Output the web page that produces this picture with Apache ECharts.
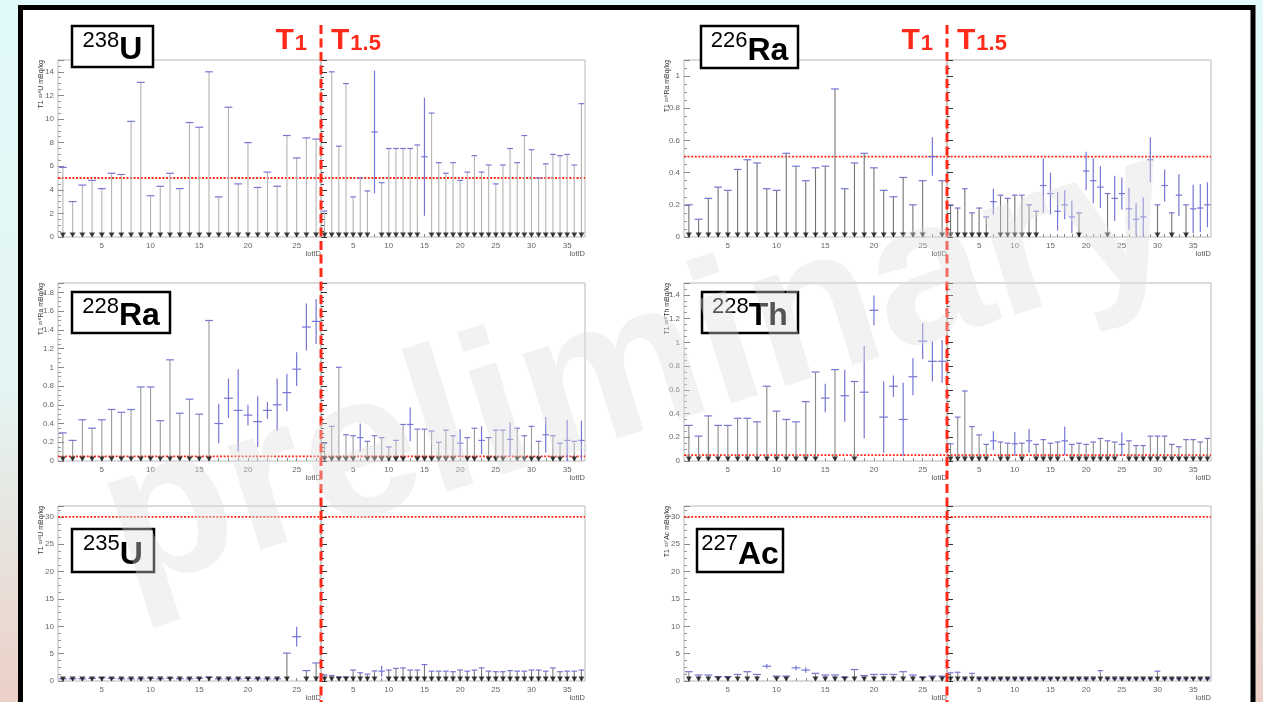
<!DOCTYPE html>
<html>
<head>
<meta charset="utf-8">
<title>Radioactivity per lot: T1 and T1.5</title>
<script src="https://cdn.jsdelivr.net/npm/echarts@6/dist/echarts.min.js"></script>
<style>
  html, body { margin: 0; padding: 0; background: #ffffff; }
  #chart { width: 1263px; height: 702px; }
</style>
</head>
<body>
<div id="chart"></div>
<script>
// ---------------------------------------------------------------------------
// Data: lot numbers, measured activities (mBq/kg) and their errors.
// An error of null means the value is an upper limit (no detection).
// ---------------------------------------------------------------------------
const _ = null;

const lotsT1  = [1,2,3,4,5,6,7,8,9,10,11,12,13,14,15,16,17,18,19,20,21,22,23,24,25,26,27];
const lotsT15 = [1,2,3,4,5,6,7,8,9,10,11,12,13,14,15,16,17,18,19,20,21,22,23,24,25,26,27,28,29,30,31,32,33,34,35,36,37];
const xTicksT1  = [5,10,15,20,25];
const xTicksT15 = [5,10,15,20,25,30,35];

// 238U
const u238T1     = [5.9,3.0,4.4,4.8,4.1,5.4,5.3,9.8,13.1,3.5,4.3,5.4,4.1,9.7,9.3,14.0,3.4,11.0,4.5,8.0,4.2,5.5,4.3,8.6,6.7,8.4,8.3];
const u238T1Err  = [_,_,_,_,_,_,_,_,_,_, _,_,_,_,_,_,_,_,_,_, _,_,_,_,_,_,_];
const u238T15    = [2.2,14.0,7.7,13.0,3.4,5.0,3.9,8.9,4.6,7.5,7.5,7.5,7.5,7.8,6.8,10.5,6.3,5.4,6.3,4.8,5.5,6.9,5.5,6.1,4.5,6.1,7.5,6.3,8.6,7.4,5.0,6.2,7.0,6.9,7.0,6.1,11.3];
const u238T15Err = [_,_,_,_,_,_,_,5.2,_,_, _,_,_,_,5.0,_,_,_,_,_, _,_,_,_,_,_,_,_,_,_, _,_,_,_,_,_,_];

// 226Ra
const ra226T1     = [0.20,0.11,0.24,0.31,0.29,0.42,0.48,0.46,0.30,0.29,0.52,0.44,0.35,0.43,0.44,0.92,0.30,0.46,0.52,0.43,0.29,0.25,0.37,0.20,0.35,0.50,0.35];
const ra226T1Err  = [_,_,_,_,_,_,_,_,_,_, _,_,_,_,_,_,_,_,_,_, _,_,_,_,_,0.12,_];
const ra226T15    = [0.20,0.18,0.30,0.15,0.18,0.125,0.22,0.26,0.24,0.26,0.26,0.20,0.16,0.32,0.27,0.16,0.20,0.125,0.15,0.41,0.35,0.31,0.27,0.24,0.27,0.175,0.11,0.125,0.48,0.20,0.32,0.15,0.26,0.20,0.175,0.18,0.20];
const ra226T15Err = [_,_,_,_,_,_,0.08,_,_,_, _,_,_,0.17,0.13,0.12,0.09,0.10,_,0.12, 0.14,0.13,_,0.14,0.10,0.13,0.10,0.12,0.14,_, 0.10,_,0.13,_,0.15,0.15,0.14];

// 228Ra
const ra228T1     = [0.30,0.22,0.44,0.35,0.44,0.55,0.52,0.55,0.79,0.79,0.43,1.08,0.51,0.66,0.50,1.50,0.40,0.67,0.54,0.49,0.42,0.54,0.60,0.73,0.98,1.43,1.49];
const ra228T1Err  = [_,_,_,_,_,_,_,_,_,_, _,_,_,_,_,_,0.21,0.21,0.44,0.11, 0.27,0.09,0.28,0.20,0.18,0.25,0.24];
const ra228T15    = [0.19,0.37,1.00,0.28,0.27,0.25,0.21,0.27,0.25,0.15,0.22,0.39,0.39,0.34,0.34,0.32,0.20,0.33,0.27,0.19,0.25,0.35,0.22,0.25,0.33,0.33,0.23,0.35,0.27,0.37,0.21,0.28,0.27,0.19,0.22,0.21,0.22];
const ra228T15Err = [_,_,_,_,_,0.15,_,_,_,_, _,_,0.18,_,_,_,_,_,_,0.15, _,_,0.15,_,_,_,0.18,_,_,_, _,0.19,_,_,0.22,_,0.21];

// 228Th
const th228T1     = [0.30,0.21,0.38,0.30,0.30,0.36,0.36,0.33,0.63,0.42,0.35,0.33,0.50,0.75,0.53,0.77,0.55,0.67,0.58,1.27,0.37,0.63,0.35,0.71,1.01,0.84,0.84];
const th228T1Err  = [_,_,_,_,_,_,_,_,_,_, _,_,_,_,0.12,_,0.22,_,0.39,0.125, 0.30,0.09,0.31,0.155,0.15,0.17,0.18];
const th228T15    = [0.145,0.37,0.59,0.29,0.22,0.14,0.17,0.16,0.15,0.145,0.15,0.17,0.14,0.18,0.15,0.16,0.17,0.14,0.15,0.14,0.16,0.19,0.17,0.16,0.14,0.17,0.13,0.13,0.21,0.21,0.21,0.14,0.12,0.18,0.18,0.16,0.19];
const th228T15Err = [_,_,_,_,_,_,0.08,_,_,0.10, _,0.10,_,_,_,_,0.12,_,_,_, _,_,_,_,0.10,_,_,_,_,_, _,_,_,_,_,_,_];

// 235U
const u235T1     = [0.4,0.4,0.4,0.5,0.6,0.5,0.4,0.4,0.4,0.5,0.4,0.5,0.4,0.4,0.5,0.7,0.4,0.4,0.4,0.5,0.4,0.4,0.4,5.1,8.1,1.9,3.3];
const u235T1Err  = [_,_,_,_,_,_,_,_,_,_, _,_,_,_,_,_,_,_,_,_, _,_,_,_,1.8,_,_];
const u235T15    = [1.1,1.0,0.7,0.7,2.0,1.5,1.25,1.85,1.8,2.0,2.3,2.4,2.0,2.0,3.0,1.8,1.8,1.8,1.7,2.0,1.8,2.0,2.4,1.8,1.7,1.7,1.9,1.8,1.8,2.0,2.0,1.8,2.4,1.7,1.8,1.8,2.0];
const u235T15Err = [_,_,_,_,_,_,_,_,1.0,_, _,_,_,_,_,_,_,_,_,_, _,_,_,_,_,_,_,_,_,_, _,_,_,_,_,_,_];

// 227Ac
const ac227T1     = [1.7,1.1,1.1,0.8,0.8,1.2,1.7,1.2,2.7,0.9,0.9,2.4,2.0,1.4,1.1,1.1,0.7,2.1,1.0,1.2,1.2,1.2,1.7,1.1,0.7,0.9,0.9];
const ac227T1Err  = [_,_,_,_,_,_,_,_,0.4,_, _,0.45,0.5,_,_,_,_,_,_,_, _,_,_,_,_,_,_];
const ac227T15    = [1.5,1.6,0.4,1.4,0.4,0.4,0.4,0.4,0.4,0.4,0.4,0.4,0.4,0.4,0.4,0.5,0.4,0.4,0.4,0.4,0.4,1.9,0.4,0.4,0.4,0.4,0.4,0.4,0.4,1.8,0.4,0.4,0.4,0.4,0.5,0.4,0.4];
const ac227T15Err = [_,_,_,_,_,_,_,_,_,_, _,_,_,_,_,_,_,_,_,_, _,_,_,_,_,_,_,_,_,_, _,_,_,_,_,_,_];

// Panel labels, y ranges and requirement levels (mBq/kg)
const massNumbers = ['238','226','228','228','235','227'];
const elements    = ['U','Ra','Ra','Th','U','Ac'];
const yMax        = [15, 1.1, 1.9, 1.5, 32, 32];
const yStep       = [2, 0.2, 0.2, 0.2, 5, 5];
const limits      = [5, 0.5, 0.05, 0.05, 30, 30];

const seriesT1     = [u238T1, ra226T1, ra228T1, th228T1, u235T1, ac227T1];
const seriesT1Err  = [u238T1Err, ra226T1Err, ra228T1Err, th228T1Err, u235T1Err, ac227T1Err];
const seriesT15    = [u238T15, ra226T15, ra228T15, th228T15, u235T15, ac227T15];
const seriesT15Err = [u238T15Err, ra226T15Err, ra228T15Err, th228T15Err, u235T15Err, ac227T15Err];

// ---------------------------------------------------------------------------
// Layout and style
// ---------------------------------------------------------------------------
const FONT = '"Liberation Sans", Arial, Helvetica, sans-serif';
const colLeft = [58, 684];
const rowTop = [60, 283, 506];
const rowHeight = [177, 178, 177];
const widthT1 = 263, widthT15 = 264;
const stemColors = ['#b4b4b4', '#747474', '#9a9a9a', '#8a8a8a', '#7a7a7a', '#8a8a8a'];
const BLUE = '#7676d6';
const RED = '#ff2a1a';
const CAP_HALF = 0.4;
const BAR_HALF = 0.45;
const titleBoxes = [[72,26,81,41],[701,26,97,42],[72,292,98,41],[702,292,96,41],[72,529,82,43],[697,529,86,43]];

function limitItem(stem) {
  return function (params, api) {
    const x = api.value(0), v = api.value(1);
    const p0 = api.coord([x, 0]), p1 = api.coord([x, v]);
    const cl = api.coord([x - CAP_HALF, v]), cr = api.coord([x + CAP_HALF, v]);
    return { type: 'group', children: [
      { type: 'line', shape: { x1: p0[0], y1: p0[1], x2: p1[0], y2: p1[1] }, style: { stroke: stem, lineWidth: 1.1 } },
      { type: 'line', shape: { x1: cl[0], y1: cl[1], x2: cr[0], y2: cr[1] }, style: { stroke: BLUE, lineWidth: 1.2 } }
    ]};
  };
}

function crossItem(params, api) {
  const x = api.value(0), v = api.value(1), e = api.value(2);
  const l = api.coord([x - BAR_HALF, v]), r = api.coord([x + BAR_HALF, v]);
  const lo = api.coord([x, Math.max(0, v - e)]), hi = api.coord([x, v + e]);
  return { type: 'group', children: [
    { type: 'line', shape: { x1: l[0], y1: l[1], x2: r[0], y2: r[1] }, style: { stroke: BLUE, lineWidth: 1.2 } },
    { type: 'line', shape: { x1: lo[0], y1: lo[1], x2: hi[0], y2: hi[1] }, style: { stroke: BLUE, lineWidth: 1.2 } }
  ]};
}

const grids = [], xAxes = [], yAxes = [], series = [];

for (let p = 0; p < 6; p++) {
  const row = Math.floor(p / 2), col = p % 2;
  const parts = [
    { lots: lotsT1,  vals: seriesT1[p],  errs: seriesT1Err[p],  ticks: xTicksT1,  left: colLeft[col],           width: widthT1,  first: true },
    { lots: lotsT15, vals: seriesT15[p], errs: seriesT15Err[p], ticks: xTicksT15, left: colLeft[col] + widthT1, width: widthT15, first: false }
  ];
  parts.forEach(part => {
    const g = grids.length;
    const xEnd = part.lots.length + 0.5;
    grids.push({
      left: part.left, top: rowTop[row], width: part.width, height: rowHeight[row],
      show: true, borderColor: '#b8b8b8', borderWidth: 1, backgroundColor: 'transparent', containLabel: false
    });
    xAxes.push({
      gridIndex: g, type: 'value', min: 0.5, max: xEnd,
      axisLine: { show: false }, splitLine: { show: false },
      axisTick: { show: true, inside: true, length: 3, customValues: part.lots, lineStyle: { color: '#8a8a8a' } },
      axisLabel: { customValues: part.ticks, fontSize: 8, color: '#666', margin: 5, fontFamily: FONT },
      name: 'lotID', nameLocation: 'end', nameGap: 0,
      nameTextStyle: { fontSize: 7.5, color: '#555', fontFamily: FONT, align: 'right', verticalAlign: 'top', padding: [13, 0, 0, 0] }
    });
    yAxes.push({
      gridIndex: g, type: 'value', min: 0, max: yMax[p], interval: yStep[p],
      axisLine: { show: false }, splitLine: { show: false },
      axisTick: { show: true, inside: true, length: 6, lineStyle: { color: part.first ? '#888' : '#333' } },
      minorTick: { show: true, splitNumber: 4, length: 3, lineStyle: { color: part.first ? '#999' : '#444' } },
      axisLabel: { show: part.first, fontSize: 8, color: '#666', margin: 4, fontFamily: FONT, showMaxLabel: false }
    });

    const upper = [], measured = [], markers = [];
    part.lots.forEach((lot, i) => {
      if (part.errs[i] === null) {
        upper.push([lot, part.vals[i]]);
        markers.push([lot, 0]);
      } else {
        measured.push([lot, part.vals[i], part.errs[i]]);
      }
    });

    series.push({ type: 'line', xAxisIndex: g, yAxisIndex: g, silent: true, z: 2,
      data: [[0.5, limits[p]], [xEnd, limits[p]]], symbol: 'none',
      lineStyle: { color: RED, width: 1.8, type: [2, 1.6] } });
    series.push({ type: 'custom', xAxisIndex: g, yAxisIndex: g, silent: true, z: 3,
      data: upper, renderItem: limitItem(stemColors[p]) });
    series.push({ type: 'custom', xAxisIndex: g, yAxisIndex: g, silent: true, z: 4,
      data: measured, renderItem: crossItem });
    series.push({ type: 'scatter', xAxisIndex: g, yAxisIndex: g, silent: true, z: 5,
      data: markers, symbol: 'triangle', symbolRotate: 180, symbolSize: [6, 5], symbolOffset: [0, -2],
      itemStyle: { color: '#111' } });
  });
}

const chart = echarts.init(document.getElementById('chart'), null, { renderer: 'canvas' });
chart.setOption({
  animation: false,
  textStyle: { fontFamily: FONT },
  grid: grids, xAxis: xAxes, yAxis: yAxes, series: series
});

// ---------------------------------------------------------------------------
// Decorations: slide background, frame, titles, T1/T1.5 separators, watermark
// ---------------------------------------------------------------------------
const measureCtx = document.createElement('canvas').getContext('2d');
function textWidth(str, size, weight) {
  measureCtx.font = weight + ' ' + size + 'px ' + FONT;
  return measureCtx.measureText(str).width;
}
// place text so that its alphabetic baseline sits at y
function baselineText(str, x, y, size, weight, color, align, z) {
  return { type: 'text', x: x, y: y - 0.33 * size, z: z, silent: true,
    style: { text: str, fontSize: size, fontWeight: weight, fontFamily: FONT, fill: color,
             align: align || 'left', verticalAlign: 'middle' } };
}

const supDigits = { '0':'⁰','1':'¹','2':'²','3':'³','4':'⁴','5':'⁵','6':'⁶','7':'⁷','8':'⁸','9':'⁹' };
function toSup(s) { return s.split('').map(c => supDigits[c] || c).join(''); }

const graphics = [];
graphics.push({ type: 'rect', z: -20, silent: true, shape: { x: 0, y: 0, width: 1263, height: 702 },
  style: { fill: new echarts.graphic.LinearGradient(0, 0, 0, 1, [
    { offset: 0, color: '#e2fafa' }, { offset: 0.55, color: '#e4f5f3' }, { offset: 1, color: '#ecd0c7' }]) } });
graphics.push({ type: 'rect', z: -19, silent: true, shape: { x: 20.5, y: 7.5, width: 1232.5, height: 760 },
  style: { fill: '#ffffff', stroke: '#000000', lineWidth: 5 } });

// y-axis titles and element boxes
for (let p = 0; p < 6; p++) {
  const row = Math.floor(p / 2), col = p % 2;
  graphics.push({ type: 'text', x: colLeft[col] - 17, y: rowTop[row], rotation: Math.PI / 2, z: 40, silent: true,
    style: { text: 'T1 ' + toSup(massNumbers[p]) + elements[p] + ' mBq/kg', fontSize: 7, fontFamily: FONT,
             fill: '#333', align: 'right', verticalAlign: 'middle' } });

  const [bx, by, bw, bh] = titleBoxes[p];
  const numSize = 22, elSize = 32;
  const wNum = textWidth(massNumbers[p], numSize, 'normal');
  const wEl = textWidth(elements[p], elSize, 'bold');
  const startX = bx + bw / 2 - (wNum + wEl) / 2;
  graphics.push({ type: 'rect', z: 60, silent: true, shape: { x: bx, y: by, width: bw, height: bh },
    style: { fill: '#ffffff', stroke: '#000000', lineWidth: 2.5 } });
  graphics.push(baselineText(massNumbers[p], startX, by + 22, numSize, 'normal', '#000', 'left', 61));
  graphics.push(baselineText(elements[p], startX + wNum, by + bh - 6, elSize, 'bold', '#000', 'left', 61));
}

// T1 / T1.5 separators at the right edge of the T1 lot range
const sepX = [0, 2].map(g => chart.convertToPixel({ gridIndex: g }, [lotsT1.length + 0.5, 0])[0]);
sepX.forEach(x => {
  graphics.push({ type: 'line', z: 80, silent: true, shape: { x1: x, y1: 25, x2: x, y2: 702 },
    style: { stroke: RED, lineWidth: 3, lineDash: [9, 4.5] } });
  const base = 51, tSize = 30, sSize = 22;
  const wT = textWidth('T', tSize, 'bold');
  const w1 = textWidth('1', sSize, 'bold');
  const leftStart = x - 15 - (wT + w1);
  graphics.push(baselineText('T', leftStart, base, tSize, 'bold', RED, 'left', 80));
  graphics.push(baselineText('1', leftStart + wT + 1, base, sSize, 'bold', RED, 'left', 80));
  const rightStart = x + 10;
  graphics.push(baselineText('T', rightStart, base, tSize, 'bold', RED, 'left', 80));
  graphics.push(baselineText('1.5', rightStart + wT + 1, base, sSize, 'bold', RED, 'left', 80));
});

// watermark
graphics.push({ type: 'text', x: 640, y: 372, rotation: 17.3 * Math.PI / 180, z: 100, silent: true,
  style: { text: 'preliminary', fontSize: 206, fontWeight: 'bold', fontFamily: FONT,
           fill: 'rgba(222,222,222,0.38)', align: 'center', verticalAlign: 'middle' } });

chart.setOption({ graphic: { elements: graphics } });
</script>
</body>
</html>
